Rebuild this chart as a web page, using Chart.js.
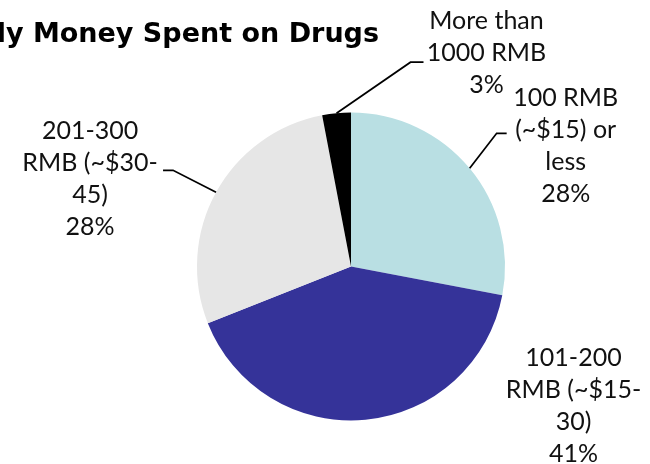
<!DOCTYPE html>
<html>
<head>
<meta charset="utf-8">
<script src="https://cdn.jsdelivr.net/npm/chart.js@4.4.0/dist/chart.umd.min.js"></script>
<style>
  html, body { margin: 0; padding: 0; background: #fff; }
  #wrap { width: 650px; height: 464px; position: relative; }
</style>
</head>
<body>
<div id="wrap"><canvas id="chart" width="650" height="464"></canvas></div>
<script>
// Monthly money spent on drugs (share of respondents, %)
const categories = [
  ['100 RMB', '(~$15) or', 'less'],
  ['101-200', 'RMB (~$15-', '30)'],
  ['201-300', 'RMB (~$30-', '45)'],
  ['More than', '1000 RMB']
];
const shares = [28, 41, 28, 3];
const sliceColors = ['#b9dfe3', '#353399', '#e6e6e6', '#000000'];
const titleText = 'Monthly Money Spent on Drugs';

// label placement relative to each slice's outer mid point (Excel style leaders)
const labelLayout = [
  { dx: 96, dy: -22, elbow: [27, -35], tail: 10 },
  { dx: 208, dy: -14, elbow: null },
  { dx: -126, dy: -13, elbow: [-43, -22], tail: -10 },
  { dx: 150, dy: -60, elbow: [74, -51], tail: 13 }
];

const LABEL_FONT = '25px Lato';
const LINE_H = 32;

const pieLabels = {
  id: 'pieLabels',
  afterDraw(chart) {
    const ctx = chart.ctx;
    const meta = chart.getDatasetMeta(0);
    ctx.save();

    // title, cut off on the left like the original
    ctx.font = 'bold 27px "DejaVu Sans"';
    ctx.fillStyle = '#000';
    ctx.textAlign = 'right';
    ctx.textBaseline = 'alphabetic';
    ctx.fillText(titleText, 379, 42);

    ctx.font = LABEL_FONT;
    ctx.fillStyle = '#111';
    ctx.textAlign = 'center';
    ctx.textBaseline = 'middle';
    ctx.strokeStyle = '#000';
    ctx.lineWidth = 1.75;

    meta.data.forEach((arc, i) => {
      const p = arc.getProps(['x', 'y', 'startAngle', 'endAngle', 'outerRadius'], true);
      const mid = (p.startAngle + p.endAngle) / 2;
      const ax = p.x + Math.cos(mid) * p.outerRadius;
      const ay = p.y + Math.sin(mid) * p.outerRadius;
      const lay = labelLayout[i];

      if (lay.elbow) {
        const ex = ax + lay.elbow[0];
        const ey = ay + lay.elbow[1];
        ctx.beginPath();
        ctx.moveTo(ax, ay);
        ctx.lineTo(ex, ey);
        ctx.lineTo(ex + lay.tail, ey);
        ctx.stroke();
      }

      const lines = categories[i].concat([shares[i] + '%']);
      const cx = ax + lay.dx;
      const cy = ay + lay.dy;
      const top = cy - (lines.length - 1) * LINE_H / 2;
      lines.forEach((t, k) => ctx.fillText(t, cx, top + k * LINE_H));
    });
    ctx.restore();
  }
};

new Chart(document.getElementById('chart'), {
  type: 'pie',
  data: {
    labels: categories.map(c => c.join(' ')),
    datasets: [{
      data: shares,
      backgroundColor: sliceColors,
      borderWidth: 0
    }]
  },
  options: {
    responsive: false,
    animation: false,
    layout: {
      padding: { left: 197, right: 145, top: 112, bottom: 43 }
    },
    plugins: {
      legend: { display: false },
      title: { display: false },
      tooltip: { enabled: false }
    }
  },
  plugins: [pieLabels]
});
</script>
</body>
</html>
